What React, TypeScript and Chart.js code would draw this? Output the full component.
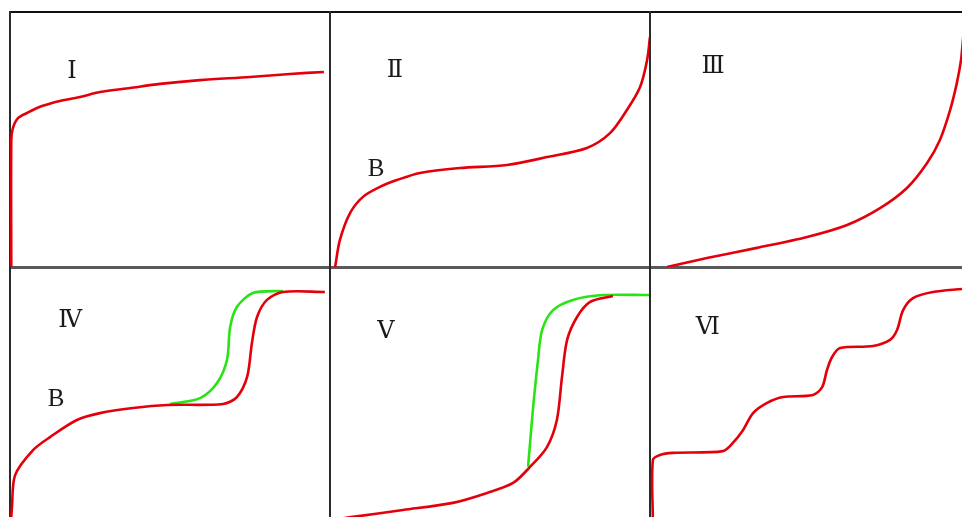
import React, { useEffect, useRef } from "react";
import { Chart, registerables } from "chart.js";

Chart.register(...registerables);

// ---- Data (relative pressure %, amount adsorbed %) ----
const typeIX = [0.4, 0.4, 0.9, 2.5, 5.3, 10, 15.6, 21.9, 28.1, 37.5, 46.9, 59.4, 75, 87.5, 98.1];
const typeIY = [0, 49.8, 54.5, 58.4, 60.4, 63.1, 65.1, 66.7, 68.6, 70.2, 71.8, 73.3, 74.5, 75.7, 76.5];

const typeIIX = [1.6, 3.1, 6.3, 10.3, 15.6, 20.9, 28.1, 40.6, 55.3, 67.8, 80.3, 87.5, 92.8, 96.9, 99.1, 100];
const typeIIY = [0, 10.6, 21.2, 27.5, 31.4, 34.1, 36.9, 38.8, 40, 43.1, 46.7, 52.5, 61.6, 70.6, 81.2, 90.2];

const typeIIIX = [5.3, 17.8, 33.4, 49.1, 61.6, 71.9, 80.3, 86.6, 90.6, 93.8, 95.9, 97.2, 97.8, 98.3];
const typeIIIY = [0, 3.5, 7.5, 11.8, 16.5, 23.1, 31, 40.8, 49.8, 61.6, 72.2, 81.2, 89, 96];

const typeIVAdsX = [0.3, 0.6, 1.6, 7.2, 12.5, 20.9, 28.1, 38.4, 49.1, 66.6, 70.9, 74.1, 75.6, 77.2, 80.3, 85.3, 98.4];
const typeIVAdsY = [0, 5.5, 18.4, 28.2, 33.3, 40, 42.7, 44.7, 45.9, 46.3, 49, 56.9, 70.2, 80.4, 87.1, 90.2, 90.2];
const typeIVDesX = [50, 59.4, 64.7, 67.8, 68.8, 70.9, 75.9, 85.3];
const typeIVDesY = [46.3, 48.6, 54.5, 63.5, 76.5, 84.3, 89.8, 90.6];

const typeVAdsX = [1.6, 7.2, 22.8, 38.4, 49.1, 57.2, 62.5, 67.8, 70.9, 72.5, 74.1, 77.2, 81.3, 88.4];
const typeVAdsY = [0.8, 2, 4.7, 7.5, 11.4, 15.3, 21.6, 29.4, 40, 56.9, 71.4, 80.4, 86.3, 88.6];
const typeVDesX = [61.9, 63.4, 65, 66.3, 69.7, 75.9, 85.3, 100];
const typeVDesY = [21.6, 43.9, 63.5, 75.3, 83.1, 87.1, 89, 89];

const typeVIX = [0.9, 0.9, 3.1, 7.2, 22.8, 25.9, 29.1, 32.2, 36.6, 41.6, 50.9, 53.8, 55.3, 56.9, 59.4, 69.7, 75, 77.2, 79.1, 82.2, 88.4, 97.5];
const typeVIY = [0, 24.3, 26.3, 27.1, 27.8, 31, 36.1, 42.7, 46.7, 49, 49.8, 52.9, 59.6, 64.7, 68.2, 69, 71.4, 75.3, 83.1, 87.8, 90.2, 91.4];

const panelNames = ["Ⅰ", "Ⅱ", "Ⅲ", "Ⅳ", "Ⅴ", "Ⅵ"];

// ---- Layout / style ----
const PAD = 6;
const COL_LEFT = [10, 330, 650];
const ROW_TOP = [12, 267];
const PANEL_W = 320;
const PANEL_H = 255;
const RED = "rgb(228,0,10)";
const GREEN = "rgb(40,228,20)";
const NUM_FONT = "24px 'Liberation Serif', 'DejaVu Serif', serif";
const B_FONT = "25px 'Liberation Serif', 'DejaVu Serif', serif";

type Series = { x: number[]; y: number[]; color: string };
type Label = { text: string; x: number; y: number; font: string };
type PanelCfg = { col: number; row: number; series: Series[]; labels: Label[] };

const panels: PanelCfg[] = [
  { col: 0, row: 0, series: [{ x: typeIX, y: typeIY, color: RED }], labels: [{ text: panelNames[0], x: 19.4, y: 76.5, font: NUM_FONT }] },
  {
    col: 1, row: 0, series: [{ x: typeIIX, y: typeIIY, color: RED }],
    labels: [{ text: panelNames[1], x: 20.3, y: 76.9, font: NUM_FONT }, { text: "B", x: 14.4, y: 38.4, font: B_FONT }],
  },
  { col: 2, row: 0, series: [{ x: typeIIIX, y: typeIIIY, color: RED }], labels: [{ text: panelNames[2], x: 19.7, y: 78.4, font: NUM_FONT }] },
  {
    col: 0, row: 1,
    series: [{ x: typeIVAdsX, y: typeIVAdsY, color: RED }, { x: typeIVDesX, y: typeIVDesY, color: GREEN }],
    labels: [{ text: panelNames[3], x: 18.8, y: 78.8, font: NUM_FONT }, { text: "B", x: 14.4, y: 48.2, font: B_FONT }],
  },
  {
    col: 1, row: 1,
    series: [{ x: typeVAdsX, y: typeVAdsY, color: RED }, { x: typeVDesX, y: typeVDesY, color: GREEN }],
    labels: [{ text: panelNames[4], x: 17.5, y: 74.5, font: NUM_FONT }],
  },
  { col: 2, row: 1, series: [{ x: typeVIX, y: typeVIY, color: RED }], labels: [{ text: panelNames[5], x: 18.1, y: 76.1, font: NUM_FONT }] },
];

function Panel({ cfg }: { cfg: PanelCfg }) {
  const ref = useRef<HTMLCanvasElement>(null);
  const w = PANEL_W + 2 * PAD;
  const h = PANEL_H + 2 * PAD;
  useEffect(() => {
    const labelPlugin = {
      id: "panelLabels",
      afterDatasetsDraw(chart: any) {
        const { ctx, scales } = chart;
        ctx.save();
        ctx.fillStyle = "#1a1a1a";
        ctx.textAlign = "center";
        ctx.textBaseline = "middle";
        for (const l of cfg.labels) {
          ctx.font = l.font;
          ctx.fillText(l.text, scales.x.getPixelForValue(l.x), scales.y.getPixelForValue(l.y));
        }
        ctx.restore();
      },
    };
    const top = cfg.row === 0;
    const hidden = { display: false };
    const chart = new Chart(ref.current!, {
      type: "scatter",
      data: {
        datasets: cfg.series.map((s) => ({
          data: s.x.map((x, i) => ({ x, y: s.y[i] })),
          showLine: true,
          borderColor: s.color,
          backgroundColor: s.color,
          borderWidth: 2.6,
          pointRadius: 0,
          tension: 0.3,
          fill: false,
        })),
      },
      options: {
        animation: false,
        responsive: false,
        events: [],
        layout: { padding: PAD },
        plugins: { legend: hidden, tooltip: { enabled: false }, title: hidden },
        scales: {
          x: {
            type: "linear", position: "bottom", min: 0, max: 100,
            ticks: hidden, grid: { display: false, drawTicks: false },
            border: { display: top, color: "#5a5a5a", width: 3 },
          },
          xTop: {
            type: "linear", axis: "x", position: "top", min: 0, max: 100,
            ticks: hidden, grid: { display: false, drawTicks: false },
            border: { display: top, color: "#111", width: 2 },
          },
          y: {
            type: "linear", position: "left", min: 0, max: 100,
            ticks: hidden, grid: { display: false, drawTicks: false },
            border: { display: true, color: "#2a2a2a", width: 2 },
          },
        },
      } as any,
      plugins: [labelPlugin],
    });
    return () => chart.destroy();
  }, [cfg]);
  return (
    <canvas
      ref={ref}
      width={w}
      height={h}
      style={{ position: "absolute", left: COL_LEFT[cfg.col] - PAD, top: ROW_TOP[cfg.row] - PAD, width: w, height: h }}
    />
  );
}

export default function App() {
  return (
    <div style={{ position: "fixed", left: 0, top: 0, width: 962, height: 517, overflow: "hidden", background: "#fff" }}>
      {panels.map((p, i) => (
        <Panel key={i} cfg={p} />
      ))}
    </div>
  );
}
